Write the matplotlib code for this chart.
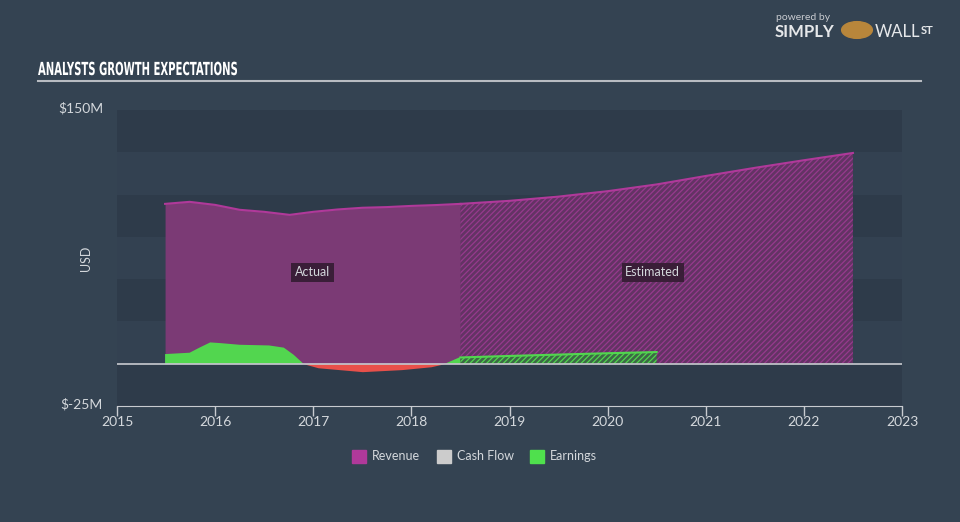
import matplotlib.pyplot as plt
import numpy as np
from matplotlib.textpath import TextPath
from matplotlib.patches import PathPatch
from matplotlib.font_manager import FontProperties
from matplotlib.transforms import Affine2D, IdentityTransform

# Datos (anios decimales, millones USD)
rev_x = [2015.49, 2015.74, 2016.0, 2016.25, 2016.5, 2016.76, 2017.0, 2017.25, 2017.5,
         2017.75, 2018.0, 2018.25, 2018.5]
rev_y = [94.5, 95.7, 93.9, 91.0, 89.8, 88.0, 89.8, 91.2, 92.2, 92.6, 93.3, 93.8, 94.5]
rev_est_x = [2018.5, 2019.0, 2019.5, 2020.0, 2020.5, 2021.0, 2021.5, 2022.0, 2022.5]
rev_est_y = [94.5, 96.3, 98.8, 102.0, 106.0, 111.0, 115.8, 120.3, 124.6]

earn_x = [2015.49, 2015.74, 2015.84, 2015.95, 2016.05, 2016.25, 2016.55, 2016.7, 2016.8,
          2016.9, 2017.05, 2017.5, 2017.9, 2018.2, 2018.35, 2018.5]
earn_y = [5.7, 6.5, 9.5, 12.6, 12.2, 11.2, 10.8, 9.5, 5.3, 0.0, -2.4, -4.7, -3.5, -1.8,
          0.2, 4.0]
earn_est_x = [2018.5, 2019.0, 2019.5, 2020.0, 2020.5]
earn_est_y = [3.7, 4.6, 5.4, 6.2, 6.9]

years = [2015, 2016, 2017, 2018, 2019, 2020, 2021, 2022, 2023]

bg = '#344352'
txt = '#d4d8dc'
c_rev = '#b0399a'
c_rev_fill = '#7b3a75'
c_earn = '#52d64f'
c_neg = '#e8504a'

plt.rcParams['hatch.linewidth'] = 0.9

fig = plt.figure(figsize=(9.6, 5.22), dpi=100, facecolor=bg)
ax = fig.add_axes([117 / 960, 1 - 406 / 522, 785 / 960, 296 / 522])
ax.set_facecolor('#303e4d')

# bandas horizontales
for i, lo in enumerate(range(-25, 150, 25)):
    col = '#2e3b4a' if i % 2 == 0 else '#334151'
    ax.axhspan(lo, lo + 25, color=col, lw=0, zorder=0)

# Ingresos
ax.fill_between(rev_x, 0, rev_y, color=c_rev_fill, lw=0, zorder=1)
ax.plot(rev_x, rev_y, color=c_rev, lw=1.5, zorder=3)
ax.fill_between(rev_est_x, 0, rev_est_y, facecolor='#633364', edgecolor='#963a8d',
                hatch='//////', lw=0, zorder=1)
ax.plot(rev_est_x, rev_est_y, color=c_rev, lw=1.5, zorder=3)

# Ganancias
ex = np.array(earn_x)
ey = np.array(earn_y)
ax.fill_between(ex, 0, ey, where=ey >= 0, interpolate=True, color=c_earn, lw=0, zorder=2)
ax.fill_between(ex, 0, ey, where=ey <= 0, interpolate=True, color=c_neg, lw=0, zorder=2)
ax.fill_between(earn_est_x, 0, earn_est_y, facecolor='#3c6a45', edgecolor=c_earn,
                hatch='//////', lw=0, zorder=2)
ax.plot(earn_est_x, earn_est_y, color=c_earn, lw=1.5, zorder=3)

ax.axhline(0, color='#c8cbd0', lw=1.2, zorder=4)

ax.set_xlim(2015, 2023)
ax.set_ylim(-25, 150)
ax.set_xticks(years)
ax.set_xticklabels([str(y) for y in years], color=txt, fontsize=10, fontfamily='Lato')
ax.tick_params(axis='x', colors='#c8cbd0', length=7, width=1, pad=0, labelcolor=txt)
ax.set_yticks([])
for s in ['top', 'right', 'left']:
    ax.spines[s].set_visible(False)
ax.spines['bottom'].set_color('#c8cbd0')

# etiquetas
box = dict(boxstyle='square,pad=0.3', fc='#3a1e38', ec='none')
ax.text(2016.99, 54, 'Actual', color=txt, fontsize=9, ha='center', va='center',
        bbox=box, zorder=6, fontfamily='Lato')
ax.text(2020.46, 54, 'Estimated', color=txt, fontsize=9, ha='center', va='center',
        bbox=box, zorder=6, fontfamily='Lato')

fig.text(103 / 960, 1 - 108 / 522, '$150M', color=txt, fontsize=10, ha='right',
         va='center', fontfamily='Lato')
fig.text(103 / 960, 1 - 404 / 522, '$-25M', color=txt, fontsize=10, ha='right',
         va='center', fontfamily='Lato')
fig.text(86 / 960, 1 - 258 / 522, 'USD', color=txt, fontsize=9, rotation=90,
         ha='center', va='center', fontfamily='Lato')

# titulo condensado (texto como path escalado en x)
tp = TextPath((0, 0), 'ANALYSTS GROWTH EXPECTATIONS', size=18,
              prop=FontProperties(family='DejaVu Sans', weight='bold'))
ancho = tp.get_extents().width
tr = Affine2D().scale(199 / ancho, 1).translate(38, 522 - 75) + IdentityTransform()
fig.add_artist(PathPatch(tp, transform=tr, color='white', lw=0))
fig.add_artist(plt.Line2D([38 / 960, 921 / 960], [1 - 81 / 522, 1 - 81 / 522],
                          color='#b8bcc2', lw=1.5))

# logo
fig.text(776 / 960, 1 - 18 / 522, 'powered by', color='#c8cbd0', fontsize=7.5,
         va='center', fontfamily='Lato')
fig.text(775 / 960, 1 - 32 / 522, 'SIMPLY', color='#e6e8ea', fontsize=12,
         fontweight='bold', va='center', fontfamily='Lato')
fig.add_artist(plt.Circle((857 / 960, 1 - 30 / 522), 0.016, color='#b8863b',
                          transform=fig.transFigure))
fig.text(875 / 960, 1 - 32 / 522, 'WALL', color='#e6e8ea', fontsize=12,
         va='center', fontfamily='Lato')
fig.text(921 / 960, 1 - 30 / 522, 'ST', color='#e6e8ea', fontsize=8, fontweight='bold',
         va='center', fontfamily='Lato')

# leyenda
items = [('Revenue', c_rev, 352), ('Cash Flow', '#cccccc', 437), ('Earnings', '#4fe04d', 530)]
for name, col, px in items:
    fig.add_artist(plt.Rectangle((px / 960, 1 - 463 / 522), 14 / 960, 13 / 522,
                                 color=col, transform=fig.transFigure))
    fig.text((px + 20) / 960, 1 - 456 / 522, name, color=txt, fontsize=9,
             va='center', fontfamily='Lato')

fig.savefig('out.png', dpi=100, facecolor=bg)
